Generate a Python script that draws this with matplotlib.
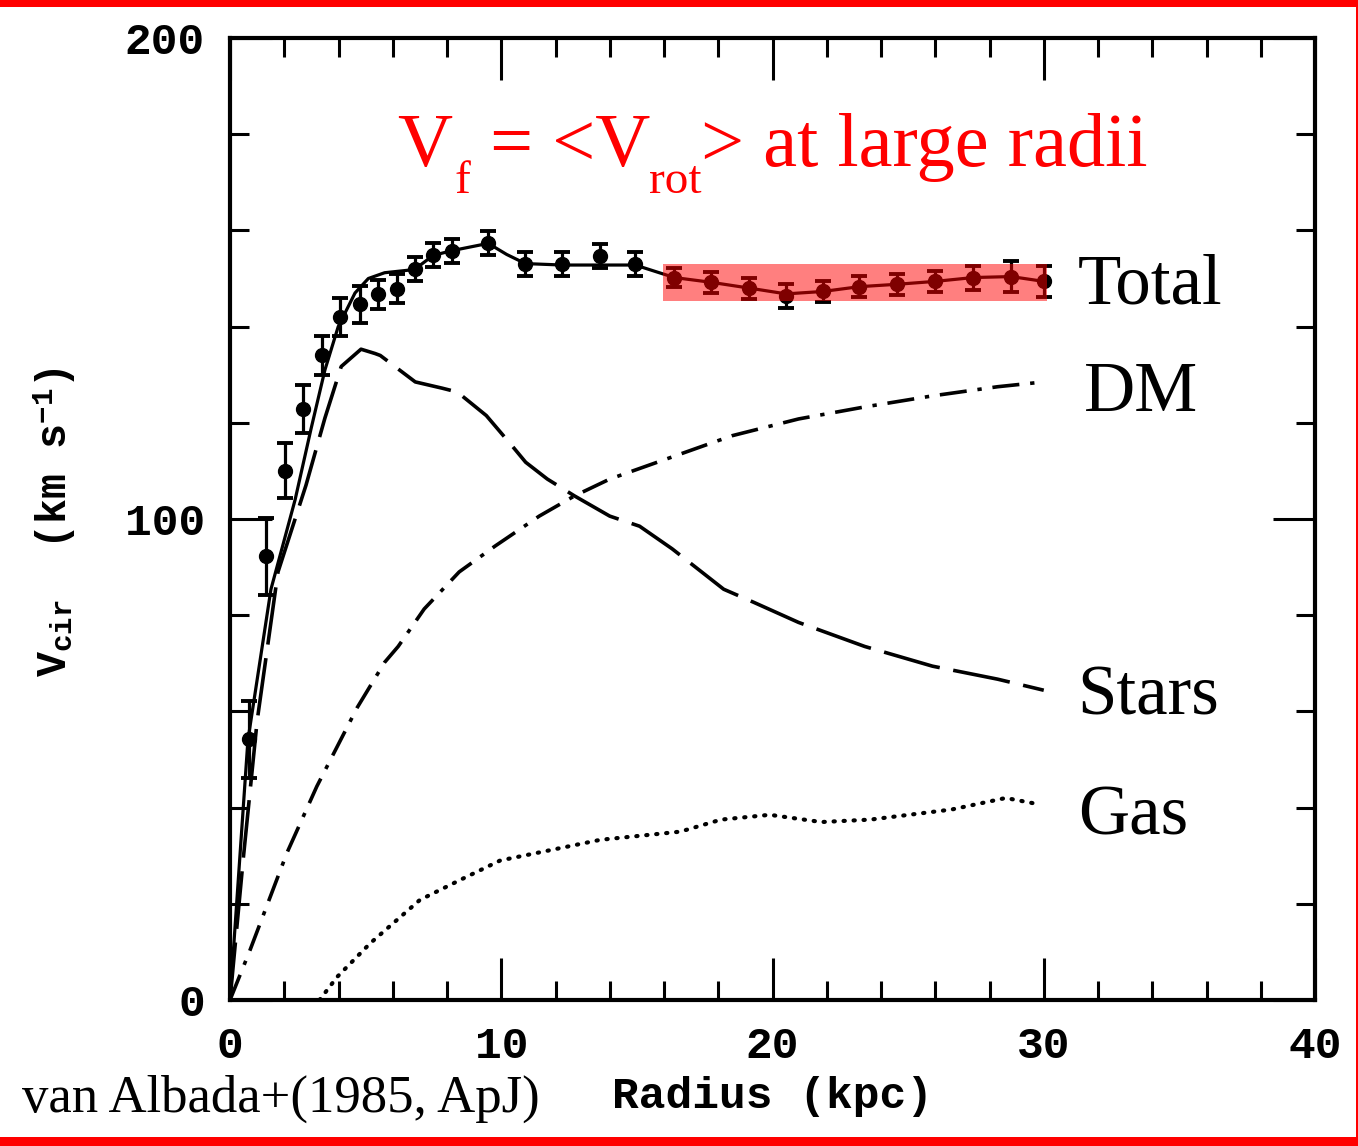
import matplotlib
matplotlib.use("Agg")
import matplotlib.pyplot as plt
from matplotlib.patches import Rectangle
from matplotlib.ticker import MultipleLocator

plt.rcParams["mathtext.fontset"] = "custom"
plt.rcParams["mathtext.rm"] = "Liberation Serif"
plt.rcParams["mathtext.it"] = "Liberation Serif:italic"
plt.rcParams["mathtext.bf"] = "Liberation Serif:bold"
plt.rcParams["mathtext.tt"] = "Liberation Mono:bold"

MONO = dict(family="Liberation Mono", weight="bold")
SERIF = "Liberation Serif"

# observed rotation curve (NGC 3198, van Albada+ 1985)
obs_r = [0.70, 1.33, 2.03, 2.69, 3.39, 4.06, 4.80, 5.46, 6.16, 6.83, 7.49, 8.19,
         9.52, 10.89, 12.25, 13.65, 14.94, 16.38, 17.75, 19.15, 20.5, 21.85,
         23.2, 24.6, 26.0, 27.4, 28.8, 30.0]
obs_v = [54.2, 92.3, 110.0, 122.9, 134.0, 142.0, 144.6, 146.7, 147.9, 152.0, 154.8, 155.8,
         157.3, 153.1, 153.1, 154.6, 153.1, 150.2, 149.2, 148.0, 146.3, 147.3,
         148.3, 148.8, 149.4, 150.2, 150.4, 149.4]
obs_err = [8.0, 8.0, 5.7, 5.0, 4.0, 4.0, 3.8, 3.0, 3.0, 2.5, 2.5, 2.5,
           2.5, 2.5, 2.5, 2.5, 2.5, 2.0, 2.2, 2.2, 2.5, 2.2,
           2.2, 2.2, 2.2, 2.5, 3.2, 3.2]

# total model fit
tot_r = [0, 0.66, 1.51, 2.4, 2.99, 3.5, 3.99, 4.61, 5.1, 5.7, 6.53, 6.83, 7.49, 8.19,
         9.52, 10.2, 10.89, 12.25, 13.65, 14.94, 16.38, 17.75, 19.15, 20.5, 21.85,
         23.2, 24.6, 26.0, 27.4, 28.8, 30.0]
tot_v = [0, 54, 85.4, 104, 118.8, 131, 140, 147, 150, 151.2, 151.7, 152.0, 154.8, 155.8,
         157.3, 155.0, 153.1, 152.8, 152.8, 152.8, 150.2, 149.2, 148.0, 146.8, 147.3,
         148.3, 148.8, 149.4, 150.2, 150.4, 149.4]

# stellar disk
stars_r = [0, 0.5, 1.0, 1.77, 2.6, 2.8, 3.5, 4.1, 4.83, 5.35, 5.54, 6.83, 7.82, 8.38,
           9.45, 10.4, 10.9, 11.7, 12.7, 14.0, 15.1, 16.3, 18.2, 19.3, 20.96, 23.4,
           25.9, 28.3, 30.0]
stars_v = [0, 30, 58, 89, 103.5, 107, 121, 131.7, 135.3, 134.4, 134, 128.5, 127.2, 126.4,
           121.5, 115.2, 111.8, 108.3, 104.8, 100.6, 98.5, 93.8, 85.4, 82.7, 78.5, 73.5,
           69.4, 66.7, 64.4]

# dark halo
dm_r = [0, 0.74, 2.1, 3.2, 4.69, 5.7, 6.2, 7.16, 8.45, 9.78, 11.4, 12.7, 14.0, 16.1,
        18.5, 20.96, 23.4, 25.9, 28.3, 30.0]
dm_v = [0, 10.4, 30.6, 44.4, 60.8, 70.2, 73.5, 81.3, 89.0, 94.4, 100.6, 104.8, 108.3, 112.5,
        117.3, 120.8, 123.3, 125.6, 127.5, 128.5]

# gas
gas_r = [3.3, 3.95, 5.17, 7.0, 8.5, 9.96, 13.65, 16.6, 18.1, 19.9, 21.8, 23.6, 26.6, 28.6, 29.9]
gas_v = [0, 4.8, 11.8, 20.8, 25.0, 29.0, 33.3, 35.0, 37.5, 38.5, 37.0, 37.5, 39.6, 42.0, 40.6]

fig = plt.figure(figsize=(13.58, 11.46), dpi=100)
fig.patch.set_facecolor("white")
ax = fig.add_axes([230 / 1358, 146 / 1146, 1085 / 1358, 962 / 1146])

ax.plot(tot_r, tot_v, color="black", lw=2.3, zorder=3)
ax.plot(stars_r, stars_v, color="black", lw=2.6, dashes=(16, 3.8), zorder=3)
ax.plot(dm_r, dm_v, color="black", lw=2.6, dashes=(7.5, 3.0, 1.2, 3.0), zorder=3)
ax.plot(gas_r, gas_v, color="black", lw=3.0, dashes=(0.3, 2.1), dash_capstyle="round", zorder=3)
ax.errorbar(obs_r, obs_v, yerr=obs_err, fmt="o", color="black", ms=10,
            elinewidth=2.3, capsize=6, capthick=2.8, zorder=4)

# flat part highlight
ax.add_patch(Rectangle((15.97, 145.4), 30.13 - 15.97, 153.1 - 145.4,
                       facecolor="red", edgecolor="none", alpha=0.5, zorder=6))

ax.set_xlim(0, 40)
ax.set_ylim(0, 200)
ax.set_xticks([0, 10, 20, 30, 40])
ax.set_yticks([0, 100, 200])
ax.xaxis.set_minor_locator(MultipleLocator(2))
ax.yaxis.set_minor_locator(MultipleLocator(20))
ax.tick_params(which="both", direction="in", top=True, right=True, width=2.2, color="black")
ax.tick_params(which="major", length=30)
ax.tick_params(which="minor", length=14)
ax.tick_params(axis="x", pad=19)
ax.tick_params(axis="y", pad=18)
for lab in ax.get_xticklabels() + ax.get_yticklabels():
    lab.set_fontfamily("Liberation Mono")
    lab.set_fontweight("bold")
    lab.set_fontsize(32)
for sp in ax.spines.values():
    sp.set_linewidth(3)

# curve labels
ax.text(31.25, 144.8, "Total", fontsize=51, family=SERIF, va="baseline", clip_on=False)
ax.text(31.48, 122.5, "DM", fontsize=51, family=SERIF, va="baseline", clip_on=False)
ax.text(31.25, 59.4, "Stars", fontsize=51, family=SERIF, va="baseline", clip_on=False)
ax.text(31.25, 34.4, "Gas", fontsize=51, family=SERIF, va="baseline", clip_on=False)

# red annotation, built piece by piece so the subscripts sit low like the original
big, small = 55, 34
t1 = ax.text(6.16, 173.3, "V", fontsize=big, family=SERIF, color="red", va="baseline")
t2 = ax.annotate("f", xy=(1, 0), xycoords=(t1, t1), xytext=(2, -14.5), textcoords="offset points",
                 fontsize=small, family=SERIF, color="red", va="bottom")
t3 = ax.annotate(" = <V", xy=(1, 0), xycoords=(t2, t1), xytext=(0, 0), textcoords="offset points",
                 fontsize=big, family=SERIF, color="red", va="bottom")
t4 = ax.annotate("rot", xy=(1, 0), xycoords=(t3, t1), xytext=(-1, -14.5), textcoords="offset points",
                 fontsize=small, family=SERIF, color="red", va="bottom")
ax.annotate("> at large radii", xy=(1, 0), xycoords=(t4, t1), xytext=(0, 0), textcoords="offset points",
            fontsize=big, family=SERIF, color="red", va="bottom")

fig.text(773 / 1358, 1 - 1108 / 1146, "Radius (kpc)", fontsize=32, ha="center", va="baseline", **MONO)
fig.text(55 / 1358, 1 - 522 / 1146, r"V$_{\mathtt{cir}}$  (km s$^{\mathtt{-1}}$)", fontsize=30,
         rotation=90, ha="center", va="center", **MONO)
fig.text(22 / 1358, 1 - 1112 / 1146, "van Albada+(1985, ApJ)", fontsize=38, family=SERIF,
         va="baseline")

# red frame bands
fig.add_artist(Rectangle((0, 1 - 7 / 1146), 1, 7 / 1146, transform=fig.transFigure,
                         facecolor="red", edgecolor="none"))
fig.add_artist(Rectangle((0, 0), 1, 9 / 1146, transform=fig.transFigure,
                         facecolor="red", edgecolor="none"))
fig.add_artist(Rectangle((1 - 2 / 1358, 0), 2 / 1358, 1, transform=fig.transFigure,
                         facecolor="red", edgecolor="none"))

fig.savefig("out.png", dpi=100, facecolor="white")
